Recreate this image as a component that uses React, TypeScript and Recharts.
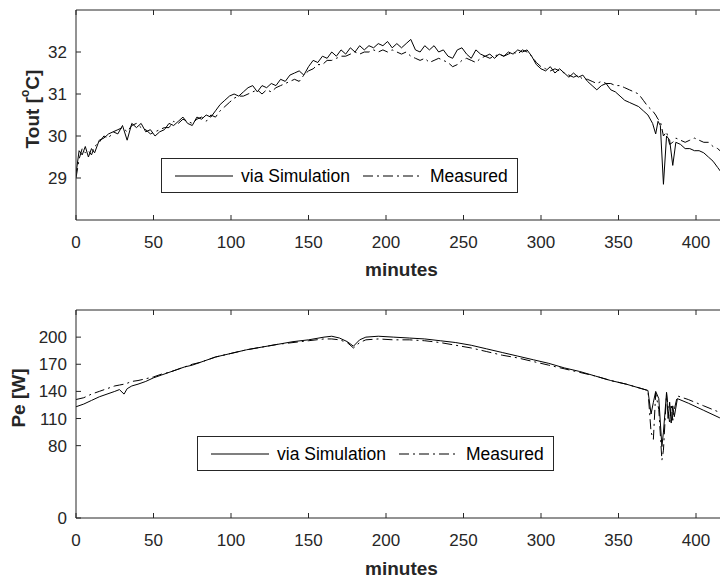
import { LineChart, Line, XAxis, YAxis, Legend } from "recharts";

// outlet temperature, minutes 0..420
const topMinutes = [
  0, 2, 4, 6, 8, 10, 12, 15, 18, 21,
  24, 27, 30, 33, 36, 39, 42, 45, 48, 51,
  54, 57, 60, 63, 66, 69, 72, 75, 78, 81,
  84, 87, 90, 93, 96, 99, 102, 105, 108, 111,
  114, 117, 120, 123, 126, 129, 132, 135, 138, 141,
  144, 147, 150, 153, 156, 159, 162, 165, 168, 171,
  174, 177, 180, 183, 186, 189, 192, 195, 198, 201,
  204, 207, 210, 213, 216, 219, 222, 225, 228, 231,
  234, 237, 240, 243, 246, 249, 252, 255, 258, 261,
  264, 267, 270, 273, 276, 279, 282, 285, 288, 291,
  294, 297, 300, 303, 306, 309, 312, 315, 318, 321,
  324, 327, 330, 333, 336, 339, 342, 345, 348, 351,
  354, 357, 360, 363, 366, 369, 372, 374, 375.5, 377,
  379, 381, 383, 385, 387, 390, 393, 396, 399, 402,
  405, 408, 411, 414, 417, 420,
];

const toutSimulation = [
  29.1, 29.65, 29.55, 29.75, 29.5, 29.7, 29.6, 29.9, 29.95, 30.05,
  30.1, 30.05, 30.25, 29.9, 30.3, 30.2, 30.3, 30.1, 30.15, 30.0,
  30.1, 30.15, 30.3, 30.25, 30.35, 30.45, 30.3, 30.25, 30.45, 30.4,
  30.5, 30.45, 30.6, 30.75, 30.85, 30.95, 31.0, 30.95, 31.05, 31.15,
  31.2, 31.05, 31.2, 31.15, 31.25, 31.2, 31.35, 31.3, 31.45, 31.5,
  31.55, 31.45, 31.65, 31.8, 31.75, 31.9, 31.85, 32.0, 31.9, 32.05,
  31.95, 32.1, 32.0, 32.15, 32.05, 32.15, 32.1, 32.2, 32.15, 32.25,
  32.1, 32.2, 32.1, 32.2, 32.3, 32.05, 32.0, 32.15, 32.05, 32.15,
  32.0, 32.05, 31.9, 31.85, 32.05, 32.1, 31.95, 31.85, 32.05, 31.95,
  31.9, 31.95, 31.85, 31.95, 31.9, 32.0, 31.95, 32.05, 32.0, 32.05,
  31.9, 31.7, 31.6, 31.55, 31.65, 31.5, 31.6, 31.5, 31.4, 31.5,
  31.4, 31.45, 31.3, 31.2, 31.1, 31.2, 31.25, 31.1, 31.05, 30.95,
  30.85, 30.8, 30.75, 30.7, 30.6, 30.5, 30.3, 30.05, 30.35, 30.25,
  28.85, 30.0, 29.9, 29.3, 29.85, 29.8, 29.7, 29.7, 29.65, 29.65,
  29.6, 29.5, 29.4, 29.25, 29.1, 29.0,
];

const toutMeasured = [
  29.0, 29.45, 29.7, 29.6, 29.65, 29.55, 29.75, 29.85, 30.0, 29.95,
  30.1, 30.15, 30.2, 30.1, 30.25, 30.3, 30.2, 30.15, 30.05, 30.1,
  30.15, 30.2, 30.2, 30.35, 30.3, 30.4, 30.35, 30.3, 30.4, 30.45,
  30.35, 30.5, 30.45, 30.6, 30.7, 30.8, 30.9, 30.95, 30.95, 31.0,
  31.05, 31.1, 31.0, 31.1, 31.05, 31.15, 31.2, 31.25, 31.3, 31.35,
  31.3, 31.45, 31.55, 31.6, 31.7, 31.7, 31.8, 31.8, 31.85, 31.9,
  31.9, 31.95, 32.0, 31.95, 32.0, 32.0, 32.05, 32.0, 32.05, 32.0,
  32.05, 32.0, 31.95, 32.0, 31.9, 31.85, 31.8, 31.85, 31.75, 31.8,
  31.85, 31.8, 31.75, 31.65, 31.7, 31.8, 31.85, 31.8, 31.75, 31.85,
  31.9, 31.85, 31.9, 31.95, 31.9, 31.95, 32.0, 31.95, 32.05, 32.0,
  31.9, 31.75, 31.65, 31.6, 31.55, 31.6, 31.55, 31.5, 31.45, 31.4,
  31.45, 31.35, 31.35, 31.3, 31.25, 31.3, 31.25, 31.25, 31.2, 31.2,
  31.15, 31.1, 31.05, 31.0, 30.85, 30.7, 30.6, 30.5, 30.4, 30.35,
  30.0, 30.1, 29.8, 29.85, 29.95, 29.9, 29.85, 29.9, 29.95, 29.9,
  29.85, 29.85, 29.75, 29.7, 29.6, 29.5,
];

// electric power
const peMinutes = [
  0, 5, 10, 15, 20, 25, 28, 31, 33, 36,
  40, 45, 50, 55, 60, 65, 70, 75, 80, 90,
  100, 110, 120, 130, 140, 150, 160, 165, 170, 175,
  179, 183, 187, 195, 205, 215, 225, 235, 245, 255,
  265, 275, 285, 295, 305, 315, 325, 335, 345, 355,
  365, 369, 371, 372.5, 374, 376, 378, 379, 381, 382,
  383, 384, 385, 386, 388, 395, 405, 415, 420,
];

const peSimulation = [
  123, 126, 130, 134, 137, 140, 142, 137, 143, 146,
  148, 151, 155, 158, 161, 164, 167, 169, 172, 178,
  182, 186, 189, 192, 195, 197, 200, 201, 199, 195,
  190, 197, 200, 201, 200, 199, 198, 196, 194, 191,
  187, 183, 179, 175, 171, 166, 162, 157, 152, 148,
  143, 141, 115, 128, 140, 132, 79, 95, 139, 110,
  128, 105, 124, 112, 132, 127, 119, 111, 107,
];

const peMeasured = [
  131, 133, 137, 140, 143, 146, 147, 148, 149, 151,
  152, 154, 156, 159, 161, 164, 167, 170, 172, 178,
  182, 186, 189, 192, 194, 196, 198, 198, 197, 194,
  188, 194, 197, 198, 197, 197, 196, 194, 191, 188,
  184, 180, 177, 173, 169, 165, 161, 157, 152, 148,
  143, 141, 95, 87, 138, 120, 64, 75, 138, 122,
  104, 126, 108, 120, 135, 131, 124, 117, 114,
];

const minuteTicks = [0, 50, 100, 150, 200, 250, 300, 350, 400];
const toutTicks = [29, 30, 31, 32];
const peTicks = [0, 80, 110, 140, 170, 200];

const AXIS = "#262626";
const FONT = "Arial, 'Liberation Sans', Helvetica, sans-serif";
const DASH_DOT = "10 4 2 4";

const topData = topMinutes.map((m, i) => ({
  minute: m,
  sim: toutSimulation[i],
  meas: toutMeasured[i],
}));

const peData = peMinutes.map((m, i) => ({
  minute: m,
  sim: peSimulation[i],
  meas: peMeasured[i],
}));

function BottomTick(props: any) {
  const { x, y, payload } = props;
  return (
    <g>
      <line x1={x} y1={y} x2={x} y2={y - 5} stroke={AXIS} />
      <text x={x} y={y + 28} textAnchor="middle" fill={AXIS} fontSize={17} fontFamily={FONT}>
        {payload.value}
      </text>
    </g>
  );
}

function TopTick(props: any) {
  const { x, y } = props;
  return <line x1={x} y1={y} x2={x} y2={y + 5} stroke={AXIS} />;
}

function LeftTick(props: any) {
  const { x, y, payload } = props;
  return (
    <g>
      <line x1={x} y1={y} x2={x + 5} y2={y} stroke={AXIS} />
      <text x={x - 9} y={y + 6} textAnchor="end" fill={AXIS} fontSize={17} fontFamily={FONT}>
        {payload.value}
      </text>
    </g>
  );
}

function MinutesLabel({ baseline }: { baseline: number }) {
  return (
    <text x={401.5} y={baseline} textAnchor="middle" fill={AXIS} fontSize={19} fontWeight="bold" fontFamily={FONT}>
      minutes
    </text>
  );
}

function LegendBox() {
  return (
    <svg width={357} height={35} style={{ display: "block" }}>
      <rect x={0.5} y={0.5} width={356} height={34} fill="#fff" stroke={AXIS} />
      <line x1={14} y1={18} x2={72} y2={18} stroke="#000" strokeWidth={1.2} />
      <text x={80} y={24} fill="#000" fontSize={17.5} fontFamily={FONT}>via Simulation</text>
      <line x1={202} y1={18} x2={262} y2={18} stroke="#000" strokeWidth={1.2} strokeDasharray={DASH_DOT} />
      <text x={269} y={24} fill="#000" fontSize={17.5} fontFamily={FONT}>Measured</text>
    </svg>
  );
}

export default function App() {
  return (
    <div
      style={{
        position: "absolute",
        left: 0,
        top: 0,
        width: 720,
        height: 581,
        overflow: "hidden",
        background: "#fff",
      }}
    >
      <div style={{ position: "absolute", left: 0, top: 0 }}>
        <LineChart width={740} height={290} data={topData} margin={{ top: 0, right: 13, bottom: 0, left: 0 }}>
          <XAxis
            dataKey="minute"
            type="number"
            domain={[0, 420]}
            ticks={minuteTicks}
            interval={0}
            allowDataOverflow
            height={70}
            tickSize={0}
            tickMargin={0}
            tickLine={false}
            axisLine={{ stroke: AXIS }}
            tick={<BottomTick />}
            label={<MinutesLabel baseline={276} />}
          />
          <XAxis
            xAxisId="top"
            orientation="top"
            dataKey="minute"
            type="number"
            domain={[0, 420]}
            ticks={minuteTicks}
            interval={0}
            allowDataOverflow
            height={10}
            tickSize={0}
            tickMargin={0}
            tickLine={false}
            axisLine={{ stroke: AXIS }}
            tick={<TopTick />}
          />
          <YAxis
            type="number"
            domain={[28, 33]}
            ticks={toutTicks}
            interval={0}
            allowDataOverflow
            width={76}
            tickSize={0}
            tickMargin={0}
            tickLine={false}
            axisLine={{ stroke: AXIS }}
            tick={<LeftTick />}
            label={
              <text
                x={32}
                y={115}
                transform="rotate(-90 32 115)"
                textAnchor="middle"
                dominantBaseline="central"
                fill={AXIS}
                fontSize={19}
                fontWeight="bold"
                fontFamily={FONT}
              >
                Tout [<tspan dy={-7} fontSize={12}>o</tspan>
                <tspan dy={7}>C]</tspan>
              </text>
            }
          />
          <Line type="linear" dataKey="sim" name="via Simulation" stroke="#000" strokeWidth={1} dot={false} isAnimationActive={false} />
          <Line type="linear" dataKey="meas" name="Measured" stroke="#000" strokeWidth={1} strokeDasharray={DASH_DOT} dot={false} isAnimationActive={false} />
          <Legend
            layout="vertical"
            align="center"
            verticalAlign="middle"
            wrapperStyle={{ left: 161, top: 158, width: 357, height: 35 }}
            content={() => <LegendBox />}
          />
        </LineChart>
      </div>

      <div style={{ position: "absolute", left: 0, top: 290 }}>
        <LineChart width={740} height={291} data={peData} margin={{ top: 10, right: 13, bottom: 0, left: 0 }}>
          <XAxis
            dataKey="minute"
            type="number"
            domain={[0, 420]}
            ticks={minuteTicks}
            interval={0}
            allowDataOverflow
            height={63}
            tickSize={0}
            tickMargin={0}
            tickLine={false}
            axisLine={{ stroke: AXIS }}
            tick={<BottomTick />}
            label={<MinutesLabel baseline={285} />}
          />
          <XAxis
            xAxisId="top"
            orientation="top"
            dataKey="minute"
            type="number"
            domain={[0, 420]}
            ticks={minuteTicks}
            interval={0}
            allowDataOverflow
            height={10}
            tickSize={0}
            tickMargin={0}
            tickLine={false}
            axisLine={{ stroke: AXIS }}
            tick={<TopTick />}
          />
          <YAxis
            type="number"
            domain={[0, 230]}
            ticks={peTicks}
            interval={0}
            allowDataOverflow
            width={76}
            tickSize={0}
            tickMargin={0}
            tickLine={false}
            axisLine={{ stroke: AXIS }}
            tick={<LeftTick />}
            label={
              <text
                x={20}
                y={126}
                transform="rotate(-90 20 126)"
                textAnchor="middle"
                dominantBaseline="central"
                fill={AXIS}
                fontSize={19}
                fontWeight="bold"
                fontFamily={FONT}
              >
                Pe [W]
              </text>
            }
          />
          <Line type="linear" dataKey="sim" name="via Simulation" stroke="#000" strokeWidth={1} dot={false} isAnimationActive={false} />
          <Line type="linear" dataKey="meas" name="Measured" stroke="#000" strokeWidth={1} strokeDasharray={DASH_DOT} dot={false} isAnimationActive={false} />
          <Legend
            layout="vertical"
            align="center"
            verticalAlign="middle"
            wrapperStyle={{ left: 197, top: 146, width: 357, height: 35 }}
            content={() => <LegendBox />}
          />
        </LineChart>
      </div>
    </div>
  );
}
